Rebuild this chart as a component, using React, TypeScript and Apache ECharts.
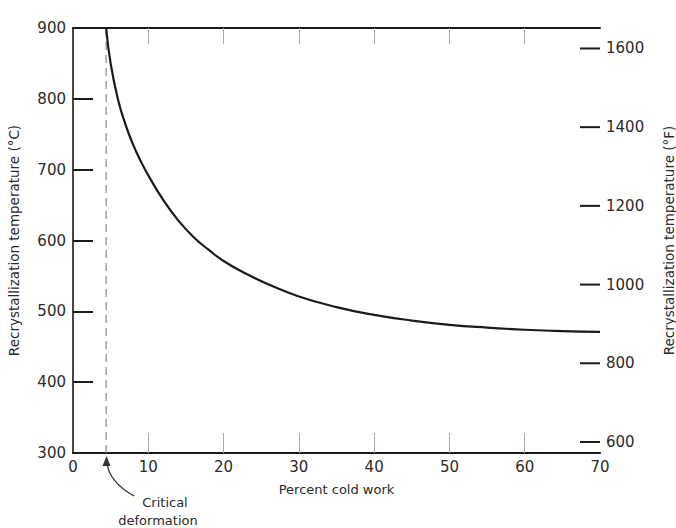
import React, { useEffect, useRef } from "react";
import * as echarts from "echarts";

// Percent cold work (x) and recrystallization temperature in °C (y)
const coldWork = [4.4, 5, 6, 7, 8, 9, 10, 12, 14, 16, 18, 20, 23, 26, 30, 35, 40, 45, 50, 55, 60, 65, 70];
const recrystTempC = [900, 850, 798, 763, 735, 712, 692, 657, 628, 605, 587, 571, 553, 538, 521, 506, 495, 487, 481, 477, 474, 472, 471];
const criticalDeformation = 4.4;
const xTickLabels = [0, 10, 20, 30, 40, 50, 60, 70];
const xInnerTicks = [10, 20, 30, 40, 50, 60];
const leftTicks = [400, 500, 600, 700, 800];
const rightTicksF = [600, 800, 1000, 1200, 1400, 1600];

const cToF = (c: number) => (c * 9) / 5 + 32;

const FONT = "DejaVu Sans";
const TXT = "#2a2a2a";

export default function App() {
  const ref = useRef<HTMLDivElement>(null);
  useEffect(() => {
    if (!ref.current) return;
    const chart = echarts.init(ref.current, undefined, { renderer: "svg" });
    const curve = coldWork.map((x, i) => [x, recrystTempC[i]]);
    const dashed = [
      [criticalDeformation, 300],
      [criticalDeformation, 900],
    ];
    const baseGraphic: any[] = [
      {
        type: "bezierCurve",
        shape: { x1: 107, y1: 462, cpx1: 108, cpy1: 478, x2: 134, y2: 496, cpx2: 120, cpy2: 488 },
        style: { stroke: "#333", lineWidth: 1.3, fill: null },
      },
      {
        type: "polygon",
        shape: { points: [[106.5, 456], [102.5, 466], [110.5, 466]] },
        style: { fill: "#333" },
      },
      {
        type: "text",
        x: 165,
        y: 502,
        style: { text: "Critical", font: `13px "${FONT}"`, fill: TXT, align: "center", verticalAlign: "middle" },
      },
      {
        type: "text",
        x: 158,
        y: 520,
        style: { text: "deformation", font: `13px "${FONT}"`, fill: TXT, align: "center", verticalAlign: "middle" },
      },
    ];
    chart.setOption({
      animation: false,
      backgroundColor: "#fff",
      textStyle: { fontFamily: FONT, color: TXT },
      grid: { left: 73, right: 76, top: 28, bottom: 75, containLabel: false, outerBoundsMode: "none" },
      xAxis: [
        {
          type: "value",
          min: 0,
          max: 70,
          interval: 10,
          position: "bottom",
          name: "Percent cold work",
          nameLocation: "middle",
          nameGap: 30,
          nameTextStyle: { fontFamily: FONT, fontSize: 13, color: TXT },
          axisLine: { show: true, lineStyle: { color: "#1a1a1a", width: 2 } },
          axisTick: {
            show: true,
            inside: true,
            length: 20,
            customValues: xInnerTicks,
            lineStyle: { color: "#aaa", width: 1 },
          },
          axisLabel: { fontFamily: FONT, fontSize: 15, color: TXT, margin: 6, customValues: xTickLabels },
          splitLine: { show: false },
        },
        {
          type: "value",
          min: 0,
          max: 70,
          interval: 10,
          position: "top",
          axisLine: { show: true, lineStyle: { color: "#1a1a1a", width: 2 } },
          axisTick: {
            show: true,
            inside: true,
            length: 16,
            customValues: xInnerTicks,
            lineStyle: { color: "#aaa", width: 1 },
          },
          axisLabel: { show: false },
          splitLine: { show: false },
        },
      ],
      yAxis: [
        {
          type: "value",
          min: 300,
          max: 900,
          interval: 100,
          position: "left",
          name: "Recrystallization temperature (°C)",
          nameLocation: "middle",
          nameGap: 52,
          nameTextStyle: { fontFamily: FONT, fontSize: 13.5, color: TXT },
          axisLine: { show: true, lineStyle: { color: "#1a1a1a", width: 2 } },
          axisTick: {
            show: true,
            inside: true,
            length: 20,
            customValues: leftTicks,
            lineStyle: { color: "#1a1a1a", width: 2 },
          },
          axisLabel: { fontFamily: FONT, fontSize: 15, color: TXT, margin: 7 },
          splitLine: { show: false },
        },
        {
          type: "value",
          min: cToF(300),
          max: cToF(900),
          position: "right",
          name: "Recrystallization temperature (°F)",
          nameLocation: "middle",
          nameGap: 62,
          nameRotate: 90,
          nameTextStyle: { fontFamily: FONT, fontSize: 13.5, color: TXT },
          axisLine: { show: true, lineStyle: { color: "#555", width: 1.5 } },
          axisTick: { show: false },
          axisLabel: {
            fontFamily: FONT,
            fontSize: 15,
            color: TXT,
            margin: 6,
            customValues: rightTicksF,
            formatter: (v: number) => String(v),
          },
          splitLine: { show: false },
        },
      ],
      series: [
        {
          type: "line",
          data: dashed,
          xAxisIndex: 0,
          yAxisIndex: 0,
          showSymbol: false,
          silent: true,
          lineStyle: { color: "#888", width: 1.2, type: [8, 5] },
        },
        {
          type: "line",
          data: curve,
          xAxisIndex: 0,
          yAxisIndex: 0,
          smooth: 0.5,
          showSymbol: false,
          silent: true,
          lineStyle: { color: "#1a1a1a", width: 2.2 },
        },
      ],
      graphic: baseGraphic,
    });
    // Right-axis (°F) inward ticks, positioned through the axis scale
    const xRight = chart.convertToPixel({ xAxisIndex: 0 }, 70) as number;
    const tickGraphics = rightTicksF.map((f) => {
      const y = chart.convertToPixel({ yAxisIndex: 1 }, f) as number;
      return {
        type: "line",
        shape: { x1: xRight - 20, y1: y, x2: xRight, y2: y },
        style: { stroke: "#1a1a1a", lineWidth: 2 },
      };
    });
    chart.setOption({ graphic: [...baseGraphic, ...tickGraphics] });
    return () => chart.dispose();
  }, []);
  return (
    <div
      ref={ref}
      style={{ position: "fixed", left: 0, top: 0, width: 676, height: 528, background: "#fff" }}
    />
  );
}
